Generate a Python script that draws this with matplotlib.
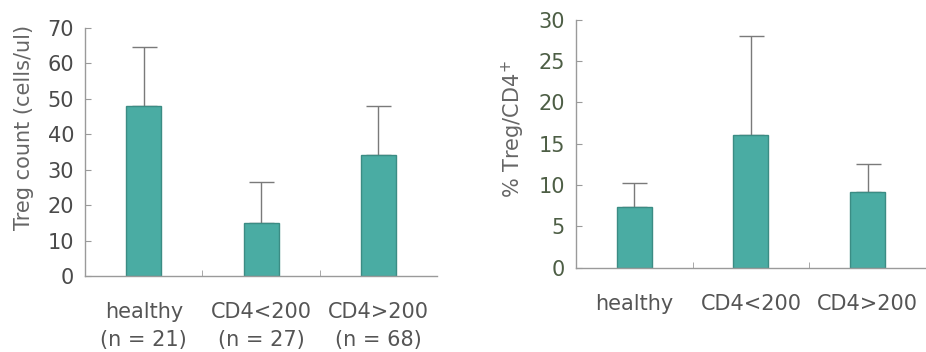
import numpy as np
import matplotlib.pyplot as plt

plt.rcParams['font.family'] = ['DejaVu Sans']

groups_left = ['healthy\n(n = 21)', 'CD4<200\n(n = 27)', 'CD4>200\n(n = 68)']
treg_count = [48, 15, 34]
treg_count_sd = [16.5, 11.4, 14]

groups_right = ['healthy', 'CD4<200', 'CD4>200']
treg_pct = [7.4, 16.1, 9.2]
treg_pct_sd = [2.8, 11.9, 3.4]

bar_color = '#4aaca3'
edge_color = '#3b8c84'
axis_color = '#9a9a9a'
err_color = '#7a7a7a'

fig = plt.figure(figsize=(9.26, 3.52), dpi=100)
ax1 = fig.add_axes([0.092, 0.216, 0.380, 0.705])
ax2 = fig.add_axes([0.622, 0.2395, 0.378, 0.704])


def draw(ax, labels, vals, sd, ymax, step, ylabel, tick_color, pad, label_xy):
    x = np.arange(len(vals))
    ax.bar(x, vals, width=0.3, color=bar_color, edgecolor=edge_color,
           linewidth=1, zorder=2)
    # upper error bars only
    ax.errorbar(x, vals, yerr=[np.zeros(len(sd)), sd], fmt='none',
                ecolor=err_color, elinewidth=1, capsize=9, capthick=1,
                zorder=1)
    ax.set_xlim(-0.5, len(vals) - 0.5)
    ax.set_ylim(0, ymax)
    ax.set_yticks(np.arange(0, ymax + 1, step))
    ax.set_xticks(x)
    ax.set_xticklabels(labels, fontsize=15, color='#555555', linespacing=1.45)
    ax.set_xticks(np.arange(0.5, len(vals) - 0.5, 1), minor=True)
    ax.tick_params(axis='x', which='major', length=0, pad=pad)
    ax.tick_params(axis='x', which='minor', direction='in', length=4,
                   color=axis_color)
    ax.tick_params(axis='y', direction='in', length=4, color=axis_color,
                   labelsize=15, labelcolor=tick_color, pad=8)
    ax.set_ylabel(ylabel, fontsize=15, color='#666666')
    ax.yaxis.set_label_coords(*label_xy)
    for s in ['top', 'right']:
        ax.spines[s].set_visible(False)
    for s in ['left', 'bottom']:
        ax.spines[s].set_color(axis_color)
        ax.spines[s].set_linewidth(1)


draw(ax1, groups_left, treg_count, treg_count_sd, 70, 10,
     'Treg count (cells/ul)', '#4a4a4a', 19, (-0.145, 0.6))
draw(ax2, groups_right, treg_pct, treg_pct_sd, 30, 5,
     '% Treg/CD4$^{+}$', '#4d5e45', 19, (-0.14, 0.56))

fig.savefig('out.png', dpi=100)
